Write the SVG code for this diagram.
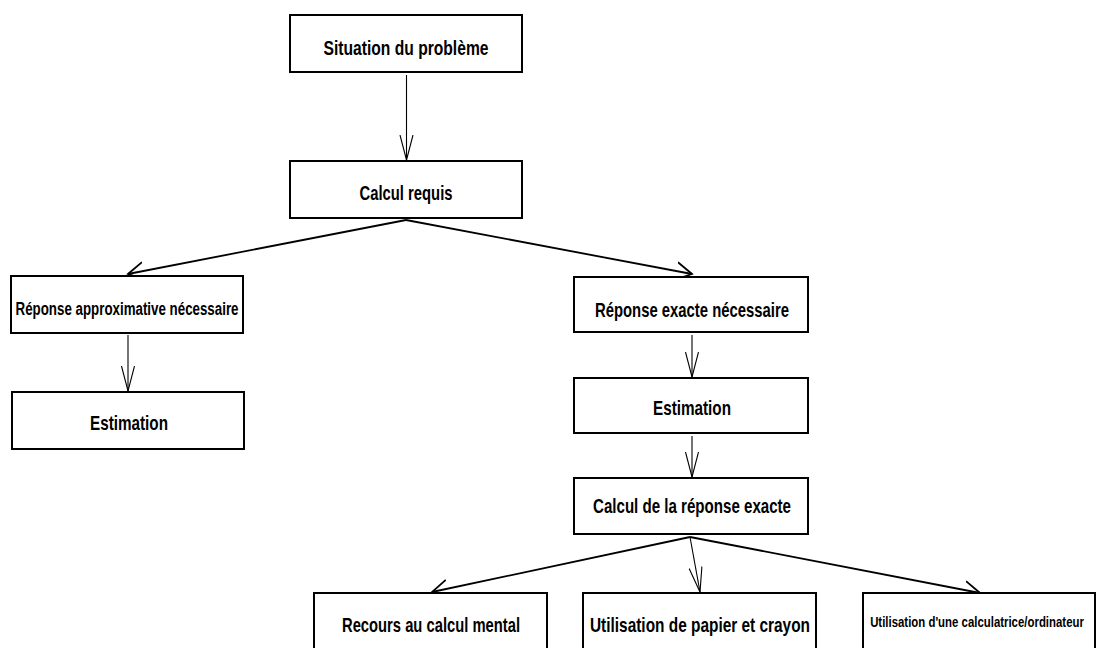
<svg xmlns="http://www.w3.org/2000/svg" width="1096" height="648" viewBox="0 0 1096 648">
<style>
.box{fill:#fff;stroke:#000;stroke-width:2}
.t{font-family:"Liberation Sans",Arial,sans-serif;font-weight:bold;fill:#000;text-anchor:middle}
.thin{fill:none;stroke:#000;stroke-width:1.1}
.thick{fill:none;stroke:#000;stroke-width:1.8}
</style>
<defs>
<marker id="vn" markerUnits="userSpaceOnUse" markerWidth="30" markerHeight="16" refX="25" refY="7" orient="auto" viewBox="0 0 30 16">
<path d="M0,0.5 L25,7 L0,13.5" fill="none" stroke="#000" stroke-width="1.1"/>
</marker>
<marker id="vw" markerUnits="userSpaceOnUse" markerWidth="20" markerHeight="22" refX="16" refY="10" orient="auto" viewBox="0 0 20 22">
<path d="M0,1 L16,10 L0,19" fill="none" stroke="#000" stroke-width="1.8"/>
</marker>
</defs>
<g id="connectors">
<line class="thin" x1="406.5" y1="75" x2="406.5" y2="160" marker-end="url(#vn)"/>
<line class="thick" x1="406" y1="220" x2="128" y2="274" marker-end="url(#vw)"/>
<line class="thick" x1="406" y1="220" x2="692" y2="274" marker-end="url(#vw)"/>
<line class="thin" x1="128" y1="335" x2="128" y2="391" marker-end="url(#vn)"/>
<line class="thin" x1="692" y1="335" x2="692" y2="377" marker-end="url(#vn)"/>
<line class="thin" x1="692" y1="436" x2="692" y2="477" marker-end="url(#vn)"/>
<line class="thick" x1="690" y1="537" x2="432" y2="592" marker-end="url(#vw)"/>
<line class="thin" x1="690" y1="537" x2="700" y2="592" marker-end="url(#vn)"/>
<line class="thick" x1="690" y1="537" x2="980" y2="593" marker-end="url(#vw)"/>
</g>
<g id="n1"><rect class="box" x="290" y="15" width="232" height="57"/><text class="t" x="406" y="55" font-size="21" textLength="165" lengthAdjust="spacingAndGlyphs">Situation du problème</text></g>
<g id="n2"><rect class="box" x="290" y="161" width="232" height="57"/><text class="t" x="406" y="200" font-size="21" textLength="93" lengthAdjust="spacingAndGlyphs">Calcul requis</text></g>
<g id="n3"><rect class="box" x="11" y="276" width="232" height="57"/><text class="t" x="127" y="315" font-size="18" textLength="223" lengthAdjust="spacingAndGlyphs">Réponse approximative nécessaire</text></g>
<g id="n4"><rect class="box" x="12" y="392" width="232" height="57"/><text class="t" x="129" y="430" font-size="21" textLength="78" lengthAdjust="spacingAndGlyphs">Estimation</text></g>
<g id="n5"><rect class="box" x="574" y="277" width="234" height="55"/><text class="t" x="692" y="317" font-size="21" textLength="194" lengthAdjust="spacingAndGlyphs">Réponse exacte nécessaire</text></g>
<g id="n6"><rect class="box" x="574" y="378" width="234" height="55"/><text class="t" x="692" y="415" font-size="21" textLength="78" lengthAdjust="spacingAndGlyphs">Estimation</text></g>
<g id="n7"><rect class="box" x="574" y="478" width="234" height="56"/><text class="t" x="692" y="513" font-size="21" textLength="198" lengthAdjust="spacingAndGlyphs">Calcul de la réponse exacte</text></g>
<g id="n8"><rect class="box" x="314" y="593" width="233" height="60"/><text class="t" x="431" y="632" font-size="21" textLength="178" lengthAdjust="spacingAndGlyphs">Recours au calcul mental</text></g>
<g id="n9"><rect class="box" x="583" y="593" width="233" height="60"/><text class="t" x="700" y="632" font-size="21" textLength="220" lengthAdjust="spacingAndGlyphs">Utilisation de papier et crayon</text></g>
<g id="n10"><rect class="box" x="863" y="593" width="232" height="60"/><text class="t" transform="translate(977,627) scale(0.75,1)" x="0" y="0" font-size="15" textLength="285" lengthAdjust="spacingAndGlyphs">Utilisation d'une calculatrice/ordinateur</text></g>
</svg>
